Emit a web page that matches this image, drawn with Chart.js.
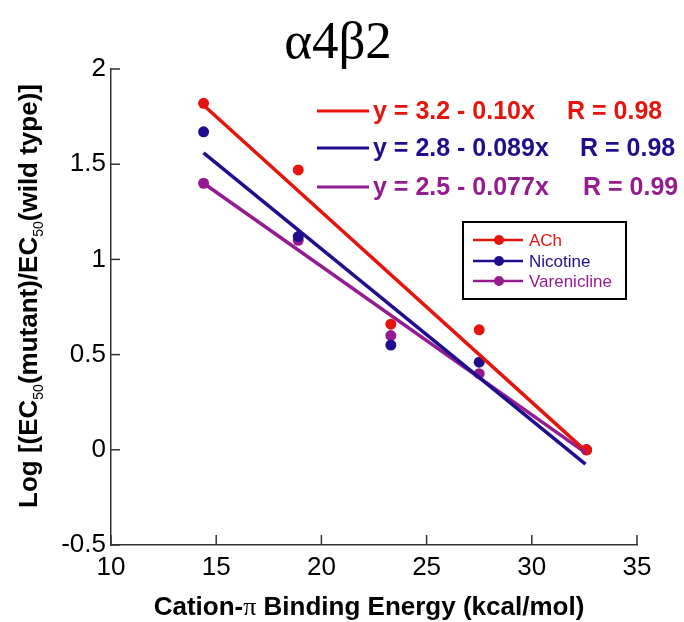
<!DOCTYPE html>
<html>
<head>
<meta charset="utf-8">
<script src="https://cdn.jsdelivr.net/npm/chart.js@4.4.1/dist/chart.umd.min.js"></script>
<style>
  body { margin: 0; background: #fff; }
  #wrap { width: 684px; height: 622px; position: relative; }
</style>
</head>
<body>
<div id="wrap"><canvas id="chart"></canvas></div>
<script>
// Data
const energies = [14.4, 18.9, 23.3, 27.5, 32.6];
const achValues = [1.82, 1.47, 0.66, 0.63, 0.0];
const nicotineValues = [1.67, 1.12, 0.55, 0.46, 0.0];
const vareniclineValues = [1.40, 1.10, 0.60, 0.40, 0.0];

// Fit line end points (x, y)
const achFitX = [14.4, 32.4];
const achFitY = [1.81, 0.01];
const nicotineFitX = [14.4, 32.55];
const nicotineFitY = [1.56, -0.075];
const vareniclineFitX = [14.4, 32.55];
const vareniclineFitY = [1.40, -0.015];

const seriesNames = ['ACh', 'Nicotine', 'Varenicline'];
const equations = ['y = 3.2 - 0.10x', 'y = 2.8 - 0.089x', 'y = 2.5 - 0.077x'];
const rValues = ['R = 0.98', 'R = 0.98', 'R = 0.99'];

const xTicks = [10, 15, 20, 25, 30, 35];
const yTicks = [-0.5, 0, 0.5, 1, 1.5, 2];

const colors = ['#e5140c', '#1f0f8f', '#951c90'];
const font = 'Liberation Sans, Arial, sans-serif';

function pts(xs, ys) {
  return xs.map((x, i) => ({ x: x, y: ys[i] }));
}

const pointSets = [achValues, nicotineValues, vareniclineValues];
const fitSets = [[achFitX, achFitY], [nicotineFitX, nicotineFitY], [vareniclineFitX, vareniclineFitY]];

const datasets = [];
pointSets.forEach((vals, i) => {
  datasets.push({
    label: seriesNames[i],
    data: pts(energies, vals),
    showLine: false,
    pointRadius: 5.5,
    pointBackgroundColor: colors[i],
    pointBorderWidth: 0,
    order: 2
  });
});
fitSets.forEach((f, i) => {
  datasets.push({
    label: seriesNames[i] + ' fit',
    data: pts(f[0], f[1]),
    showLine: true,
    borderColor: colors[i],
    borderWidth: 3.5,
    pointRadius: 0,
    order: 1
  });
});

// Title, axis titles, inner ticks, equations and legend box
const decorations = {
  id: 'decorations',
  afterDraw(chart) {
    const ctx = chart.ctx;
    const xs = chart.scales.x, ys = chart.scales.y;
    const area = chart.chartArea;
    ctx.save();

    // inward tick marks
    ctx.strokeStyle = '#333';
    ctx.lineWidth = 1.5;
    xTicks.forEach(v => {
      const px = xs.getPixelForValue(v);
      ctx.beginPath(); ctx.moveTo(px, area.bottom); ctx.lineTo(px, area.bottom - 10); ctx.stroke();
    });
    yTicks.forEach(v => {
      const py = ys.getPixelForValue(v);
      ctx.beginPath(); ctx.moveTo(area.left, py); ctx.lineTo(area.left + 9, py); ctx.stroke();
    });

    // title
    ctx.fillStyle = '#000';
    ctx.textAlign = 'center';
    ctx.textBaseline = 'alphabetic';
    ctx.font = '53px "Liberation Serif", "Times New Roman", serif';
    ctx.fillText('α4β2', 338, 58);

    // x title
    const xParts = [
      { t: 'Cation-', f: 'bold 26px ' + font },
      { t: 'π', f: '26px "Liberation Serif", serif' },
      { t: ' Binding Energy (kcal/mol)', f: 'bold 26px ' + font }
    ];
    let w = 0;
    xParts.forEach(p => { ctx.font = p.f; w += ctx.measureText(p.t).width; });
    let cx = 369 - w / 2;
    ctx.textAlign = 'left';
    xParts.forEach(p => { ctx.font = p.f; ctx.fillText(p.t, cx, 615); cx += ctx.measureText(p.t).width; });

    // y title (rotated)
    const yParts = [
      { t: 'Log [(EC', f: 'bold 26px ' + font, dy: 0 },
      { t: '50', f: '14px ' + font, dy: 6 },
      { t: '(mutant)/EC', f: 'bold 26px ' + font, dy: 0 },
      { t: '50', f: '14px ' + font, dy: 6 },
      { t: '(wild type)]', f: 'bold 26px ' + font, dy: 0 }
    ];
    w = 0;
    yParts.forEach(p => { ctx.font = p.f; w += ctx.measureText(p.t).width; });
    ctx.translate(37, 296);
    ctx.rotate(-Math.PI / 2);
    cx = -w / 2;
    yParts.forEach(p => { ctx.font = p.f; ctx.fillText(p.t, cx, p.dy); cx += ctx.measureText(p.t).width; });
    ctx.setTransform(1, 0, 0, 1, 0, 0);

    // equations
    const eqY = [119, 156, 195];
    const rX = [567, 580, 583];
    ctx.font = 'bold 25px ' + font;
    ctx.lineWidth = 3;
    equations.forEach((eq, i) => {
      ctx.strokeStyle = colors[i];
      ctx.fillStyle = colors[i];
      ctx.beginPath(); ctx.moveTo(317, eqY[i] - 8); ctx.lineTo(369, eqY[i] - 8); ctx.stroke();
      ctx.fillText(eq, 373, eqY[i]);
      ctx.fillText(rValues[i], rX[i], eqY[i]);
    });

    // legend box
    ctx.strokeStyle = '#000';
    ctx.lineWidth = 2;
    ctx.strokeRect(463, 222, 163, 77);
    const legY = [240, 261, 281];
    ctx.font = '17px ' + font;
    ctx.textBaseline = 'middle';
    seriesNames.forEach((n, i) => {
      ctx.strokeStyle = colors[i];
      ctx.fillStyle = colors[i];
      ctx.lineWidth = 2.5;
      ctx.beginPath(); ctx.moveTo(473, legY[i]); ctx.lineTo(523, legY[i]); ctx.stroke();
      ctx.beginPath(); ctx.arc(499, legY[i], 5, 0, Math.PI * 2); ctx.fill();
      ctx.fillText(n, 529, legY[i] + 1);
    });
    ctx.restore();
  }
};

new Chart(document.getElementById('chart'), {
  type: 'scatter',
  data: { datasets: datasets },
  options: {
    responsive: true,
    maintainAspectRatio: false,
    animation: false,
    layout: { padding: { top: 69, right: 47, left: 0, bottom: 0 } },
    plugins: { legend: { display: false }, tooltip: { enabled: false }, title: { display: false } },
    scales: {
      x: {
        type: 'linear', min: 10, max: 35,
        afterBuildTicks: s => { s.ticks = xTicks.map(v => ({ value: v })); },
        afterFit: s => { s.height = 77; },
        grid: { display: true, drawOnChartArea: false, drawTicks: false },
        border: { color: '#333', width: 1.5 },
        ticks: { padding: 7, color: '#000', font: { family: font, size: 26 }, callback: v => String(v) }
      },
      y: {
        type: 'linear', min: -0.5, max: 2,
        afterBuildTicks: s => { s.ticks = yTicks.map(v => ({ value: v })); },
        afterFit: s => { s.width = 111; },
        grid: { display: true, drawOnChartArea: false, drawTicks: false },
        border: { color: '#333', width: 1.5 },
        ticks: { padding: 5, color: '#000', font: { family: font, size: 26 }, callback: v => String(v) }
      }
    }
  },
  plugins: [decorations]
});
</script>
</body>
</html>
